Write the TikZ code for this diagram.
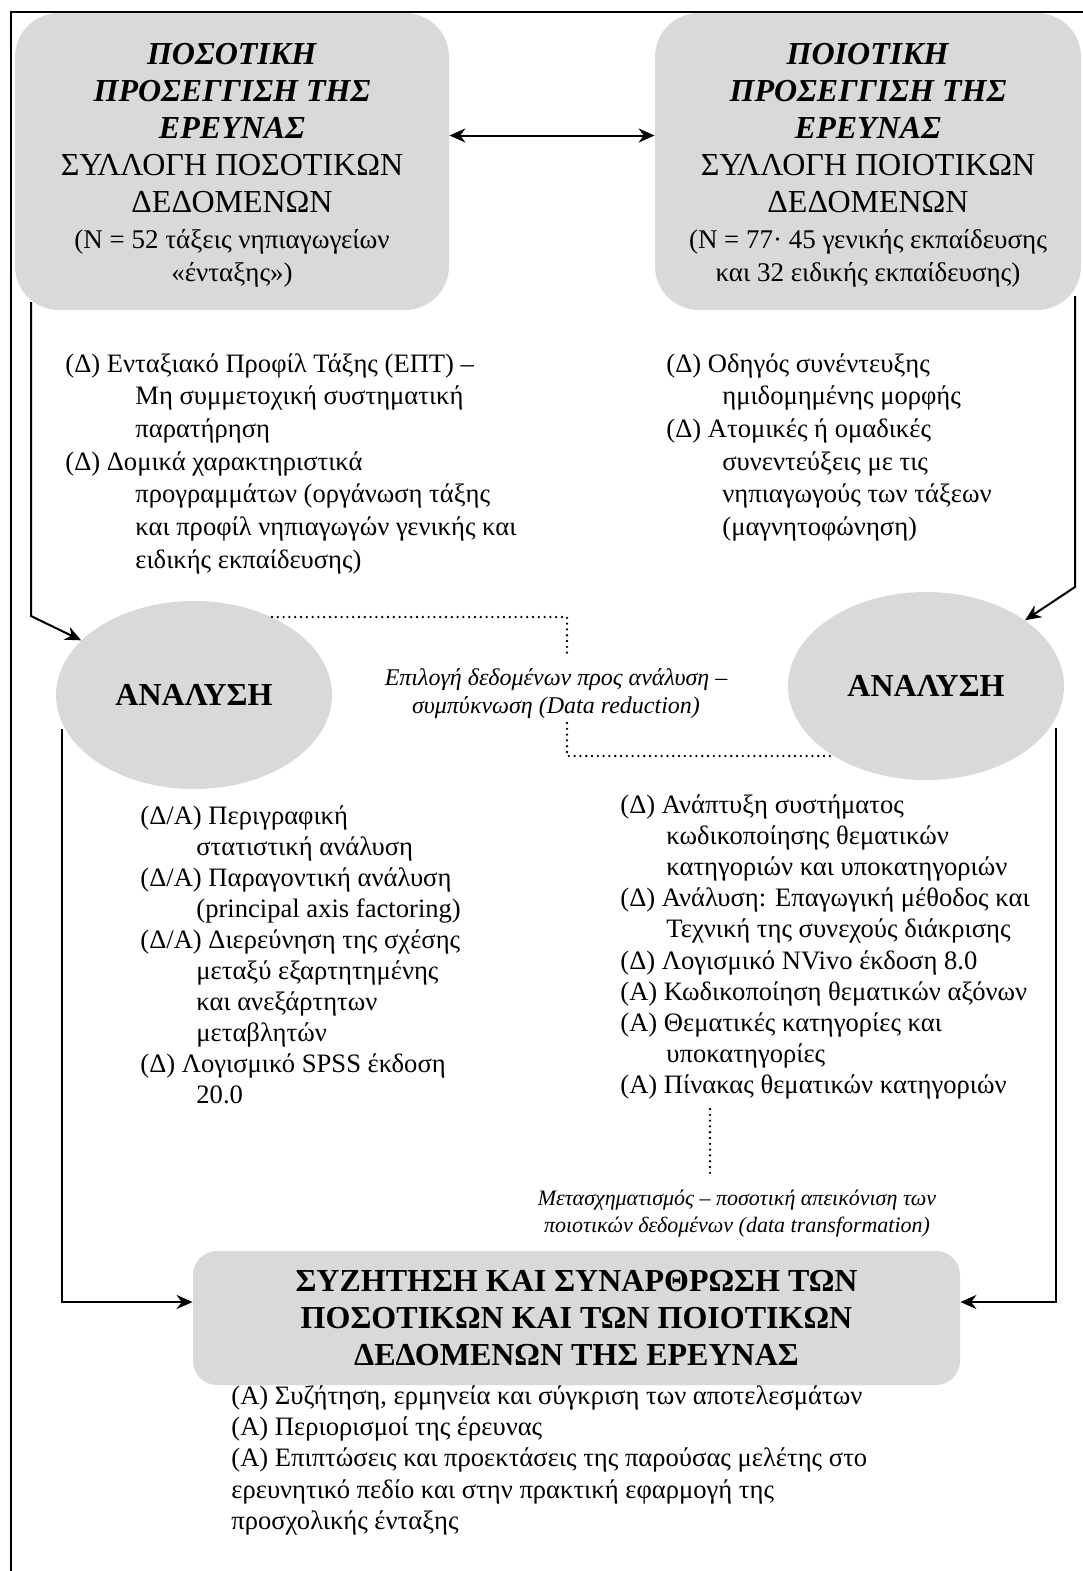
\documentclass[tikz,border=0pt]{standalone}
\usepackage{fontspec}
\setmainfont{Liberation Serif}
\usetikzlibrary{shapes.geometric, arrows.meta}
\definecolor{boxgray}{HTML}{D9D9D9}

\begin{document}
\begin{tikzpicture}[x=0.5pt, y=-0.5pt,
    box/.style={fill=boxgray, align=center, inner sep=0pt},
    oval/.style={ellipse, fill=boxgray, minimum width=138pt, minimum height=94pt,
      inner sep=0pt, font=\fontsize{16}{18}\selectfont\bfseries},
    arr/.style={-{Stealth[length=8pt, width=7pt]}, line width=1pt},
    darr/.style={{Stealth[length=8pt, width=7pt]}-{Stealth[length=8pt, width=7pt]}, line width=1pt},
    dots/.style={line width=1.3pt, dash pattern=on 0pt off 2.9pt, line cap=round},
    list/.style={align=left, anchor=north west, inner sep=0pt, font=\fontsize{13.3}{16.35}\selectfont},
    note/.style={align=center, inner sep=0pt}]
  \useasboundingbox (0,0) rectangle (1083,1571);

  % Two approaches at the top
  \node[box, rounded corners=22pt, minimum width=217pt, minimum height=148.5pt,
    font=\fontsize{16}{18.4}\selectfont] (quant) at (232,161.5)
    {\rule{0pt}{14.6pt}\textbf{\textit{ΠΟΣΟΤΙΚΗ}}\\
     \textbf{\textit{ΠΡΟΣΕΓΓΙΣΗ ΤΗΣ}}\\
     \textbf{\textit{ΕΡΕΥΝΑΣ}}\\
     ΣΥΛΛΟΓΗ ΠΟΣΟΤΙΚΩΝ\\
     ΔΕΔΟΜΕΝΩΝ\\
     {\fontsize{13.5}{16.1}\selectfont (Ν = 52 τάξεις νηπιαγωγείων}\\[-2pt]
     {\fontsize{13.5}{16.1}\selectfont «ένταξης»)}};
  \node[box, rounded corners=22pt, minimum width=213pt, minimum height=148.5pt,
    font=\fontsize{16}{18.4}\selectfont] (qual) at (868,161.5)
    {\rule{0pt}{14.6pt}\textbf{\textit{ΠΟΙΟΤΙΚΗ}}\\
     \textbf{\textit{ΠΡΟΣΕΓΓΙΣΗ ΤΗΣ}}\\
     \textbf{\textit{ΕΡΕΥΝΑΣ}}\\
     ΣΥΛΛΟΓΗ ΠΟΙΟΤΙΚΩΝ\\
     ΔΕΔΟΜΕΝΩΝ\\
     {\fontsize{13.5}{16.1}\selectfont (Ν = 77· 45 γενικής εκπαίδευσης}\\[-2pt]
     {\fontsize{13.5}{16.1}\selectfont και 32 ειδικής εκπαίδευσης)}};

  % Data collection tools
  \node[list] (qlist) at (65,353)
    {(Δ) Ενταξιακό Προφίλ Τάξης (ΕΠΤ) –\\
     \hspace*{35pt}Μη συμμετοχική συστηματική\\
     \hspace*{35pt}παρατήρηση\\
     (Δ) Δομικά χαρακτηριστικά\\
     \hspace*{35pt}προγραμμάτων (οργάνωση τάξης\\
     \hspace*{35pt}και προφίλ νηπιαγωγών γενικής και\\
     \hspace*{35pt}ειδικής εκπαίδευσης)};
  \node[list] (plist) at (666,353)
    {(Δ) Οδηγός συνέντευξης\\
     \hspace*{28pt}ημιδομημένης μορφής\\
     (Δ) Ατομικές ή ομαδικές\\
     \hspace*{28pt}συνεντεύξεις με τις\\
     \hspace*{28pt}νηπιαγωγούς των τάξεων\\
     \hspace*{28pt}(μαγνητοφώνηση)};

  % Analysis
  \node[oval] (anL) at (194,695) {ΑΝΑΛΥΣΗ};
  \node[oval] (anR) at (926,686) {ΑΝΑΛΥΣΗ};
  \node[note, font=\fontsize{12}{14}\selectfont\itshape] (red) at (556,694)
    {Επιλογή δεδομένων προς ανάλυση –\\ συμπύκνωση (Data reduction)};

  \node[list, font=\fontsize{13.3}{15.5}\selectfont] (qana) at (140,805)
    {(Δ/Α) Περιγραφική\\
     \hspace*{28pt}στατιστική ανάλυση\\
     (Δ/Α) Παραγοντική ανάλυση\\
     \hspace*{28pt}(principal axis factoring)\\
     (Δ/Α) Διερεύνηση της σχέσης\\
     \hspace*{28pt}μεταξύ εξαρτητημένης\\
     \hspace*{28pt}και ανεξάρτητων\\
     \hspace*{28pt}μεταβλητών\\
     (Δ) Λογισμικό SPSS έκδοση\\
     \hspace*{28pt}20.0};
  \node[list, font=\fontsize{13.3}{15.6}\selectfont] (pana) at (620,794)
    {(Δ) Ανάπτυξη συστήματος\\
     \hspace*{23pt}κωδικοποίησης θεματικών\\
     \hspace*{23pt}κατηγοριών και υποκατηγοριών\\
     (Δ) Ανάλυση: Επαγωγική μέθοδος και\\
     \hspace*{23pt}Τεχνική της συνεχούς διάκρισης\\
     (Δ) Λογισμικό NVivo έκδοση 8.0\\
     (Α) Κωδικοποίηση θεματικών αξόνων\\
     (Α) Θεματικές κατηγορίες και\\
     \hspace*{23pt}υποκατηγορίες\\
     (Α) Πίνακας θεματικών κατηγοριών};
  \node[note, font=\fontsize{11}{13.5}\selectfont\itshape] (trans) at (737,1214)
    {Μετασχηματισμός – ποσοτική απεικόνιση των\\ ποιοτικών δεδομένων (data transformation)};

  % Discussion
  \node[box, rounded corners=12pt, minimum width=383.5pt, minimum height=67pt,
    font=\fontsize{16}{18.4}\selectfont\bfseries] (disc) at (576.5,1318)
    {ΣΥΖΗΤΗΣΗ ΚΑΙ ΣΥΝΑΡΘΡΩΣΗ ΤΩΝ\\
     ΠΟΣΟΤΙΚΩΝ ΚΑΙ ΤΩΝ ΠΟΙΟΤΙΚΩΝ\\
     ΔΕΔΟΜΕΝΩΝ ΤΗΣ ΕΡΕΥΝΑΣ};
  \node[list, font=\fontsize{13.3}{15.7}\selectfont] (outc) at (231,1385)
    {(Α) Συζήτηση, ερμηνεία και σύγκριση των αποτελεσμάτων\\
     (Α) Περιορισμοί της έρευνας\\
     (Α) Επιπτώσεις και προεκτάσεις της παρούσας μελέτης στο\\
     ερευνητικό πεδίο και στην πρακτική εφαρμογή της\\
     προσχολικής ένταξης};

  % Connectors
  \coordinate (lt) at (31,302);
  \coordinate (lc) at (31,616);
  \coordinate (rt) at (1075,296);
  \coordinate (rc) at (1075,587);
  \coordinate (ls) at (62,729);
  \coordinate (lb) at (62,1302);
  \coordinate (rs) at (1056,728);
  \coordinate (rb) at (1056,1302);
  \coordinate (dt) at (567,657);
  \coordinate (db) at (567,723);
  \coordinate (tt) at (710,1109);
  \coordinate (tb) at (710,1173);

  \draw[darr] ([yshift=13pt]quant.east) -- ([yshift=13pt]qual.west);
  \draw[arr] (lt) -- (lc) -- (anL);
  \draw[arr] (rt) -- (rc) -- (anR);
  \draw[arr] (ls) -- (lb) -- (disc.west |- lb);
  \draw[arr] (rs) -- (rb) -- (disc.east |- rb);
  \draw[dots] (anL.45) -| (dt);
  \draw[dots] (db) |- (anR.217);
  \draw[dots] (tt) -- (tb);

  % Frame
  \draw[line width=1.2pt] (11,1571) -- (11,12) -- (1083,12);
\end{tikzpicture}
\end{document}
